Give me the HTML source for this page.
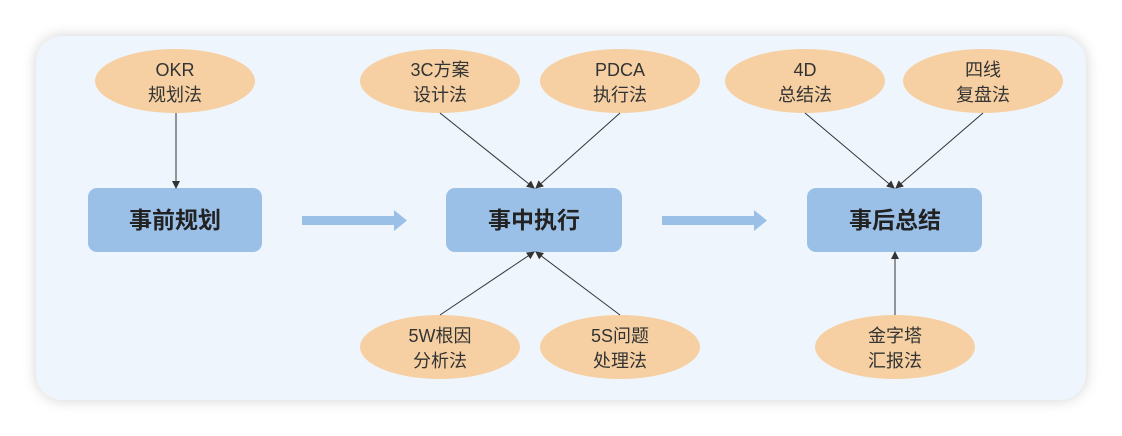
<!DOCTYPE html>
<html><head><meta charset="utf-8"><style>
html,body{margin:0;padding:0;background:#fff;}
body{width:1122px;height:436px;position:relative;overflow:hidden;font-family:"Liberation Sans","Noto Sans CJK SC",sans-serif;}
.card{position:absolute;left:36px;top:36px;width:1050px;height:364px;background:#eff5fc;border-radius:26px;box-shadow:0 0 14px rgba(0,0,0,0.18);}
svg{position:absolute;left:0;top:0;}
</style></head><body>
<div class="card"></div>
<svg width="1122" height="436" viewBox="0 0 1122 436">
<defs><marker id="a" markerWidth="8" markerHeight="8" refX="7" refY="4" orient="auto" markerUnits="userSpaceOnUse"><path d="M0,0 L8,4 L0,8 z" fill="#333"/></marker></defs>
<g fill="#f6d0a3">
<ellipse cx="175" cy="81" rx="80" ry="32"/>
<ellipse cx="440" cy="81" rx="80" ry="32"/>
<ellipse cx="620" cy="81" rx="80" ry="32"/>
<ellipse cx="805" cy="81" rx="80" ry="32"/>
<ellipse cx="983" cy="81" rx="80" ry="32"/>
<ellipse cx="440" cy="347" rx="80" ry="32"/>
<ellipse cx="620" cy="347" rx="80" ry="32"/>
<ellipse cx="895" cy="347" rx="80" ry="32"/>
</g>
<g fill="#9bc0e8">
<rect x="88" y="188" width="174" height="64" rx="9"/>
<rect x="446" y="188" width="176" height="64" rx="9"/>
<rect x="807" y="188" width="175" height="64" rx="9"/>
<path d="M302,216 H394 V210 L407,220.5 L394,231 V225 H302 z"/>
<path d="M662,216 H754 V210 L767,220.5 L754,231 V225 H662 z"/>
</g>
<g stroke="#333" stroke-width="1" marker-end="url(#a)">
<line x1="176" y1="113" x2="176" y2="188"/>
<line x1="440" y1="113" x2="534" y2="188"/>
<line x1="620" y1="113" x2="536" y2="188"/>
<line x1="805" y1="113" x2="894" y2="188"/>
<line x1="983" y1="113" x2="896" y2="188"/>
<line x1="440" y1="315" x2="534" y2="252"/>
<line x1="620" y1="315" x2="536" y2="252"/>
<line x1="895" y1="315" x2="895" y2="252"/>
</g>
<g font-size="18" fill="#333" text-anchor="middle" font-family="Liberation Sans, Noto Sans CJK SC, sans-serif">
<text x="175" y="76">OKR</text><text x="175" y="101">规划法</text>
<text x="440" y="76">3C方案</text><text x="440" y="101">设计法</text>
<text x="620" y="76">PDCA</text><text x="620" y="101">执行法</text>
<text x="805" y="76">4D</text><text x="805" y="101">总结法</text>
<text x="983" y="76">四线</text><text x="983" y="101">复盘法</text>
<text x="440" y="342">5W根因</text><text x="440" y="367">分析法</text>
<text x="620" y="342">5S问题</text><text x="620" y="367">处理法</text>
<text x="895" y="342">金字塔</text><text x="895" y="367">汇报法</text>
</g>
<g font-size="23" font-weight="bold" fill="#222" text-anchor="middle" font-family="Liberation Sans, Noto Sans CJK SC, sans-serif">
<text x="175" y="228">事前规划</text>
<text x="534" y="228">事中执行</text>
<text x="895" y="228">事后总结</text>
</g>
</svg>
</body></html>
